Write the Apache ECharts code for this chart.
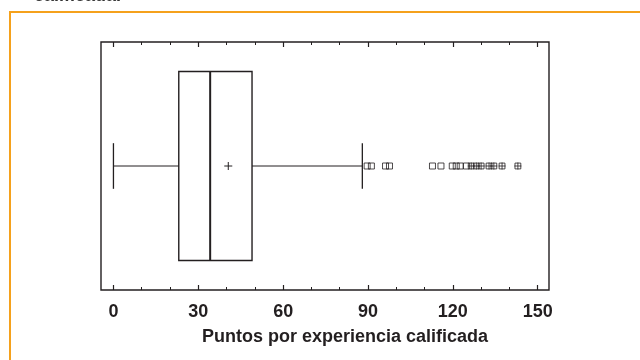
<!DOCTYPE html>
<html>
<head>
<meta charset="utf-8">
<script src="https://cdn.jsdelivr.net/npm/echarts@6/dist/echarts.min.js"></script>
<style>
html,body{margin:0;padding:0;background:#fff;}
#chart{width:640px;height:360px;}
</style>
</head>
<body>
<div id="chart"></div>
<script>
// ---- data ----
const axisTitle = 'Puntos por experiencia calificada';
const captionTail = 'calificada.';
const majorTicks = [0, 30, 60, 90, 120, 150];
const minorTicks = [0, 10, 20, 30, 40, 50, 60, 70, 80, 90, 100, 110, 120, 130, 140, 150];
// [lower whisker, Q1, median, Q3, upper whisker]
const boxStats = [0, 23.1, 34.2, 49.0, 88.0];
const meanValue = 40.6;
const outsidePoints = [89.7, 91.2, 96.2, 97.6, 112.8, 115.8, 119.8, 121.2, 122.6, 124.8];
const farOutsidePoints = [126.5, 128.3, 130.0, 132.8, 134.5, 137.4, 143.0];

// ---- layout ----
const XMIN = -4.4, XMAX = 154;
const CY = 0.5, BOX_HALF = 0.381, CAP_HALF = 0.092, MEAN_HALF_PX = 4;
const INK = '#231f20';
const ORANGE = '#f5a11c';
const FONT = '"Liberation Sans", Arial, sans-serif';

const chart = echarts.init(document.getElementById('chart'), null, {renderer: 'canvas'});

function renderBox(params, api) {
  const lo = api.value(0), q1 = api.value(1), md = api.value(2), q3 = api.value(3), hi = api.value(4), mn = api.value(5);
  const c = api.coord([q1, CY]);
  const yc = c[1];
  const yTop = api.coord([q1, CY + BOX_HALF])[1];
  const yBot = api.coord([q1, CY - BOX_HALF])[1];
  const capTop = api.coord([q1, CY + CAP_HALF])[1];
  const capBot = api.coord([q1, CY - CAP_HALF])[1];
  const xLo = api.coord([lo, CY])[0];
  const xQ1 = c[0];
  const xMd = api.coord([md, CY])[0];
  const xQ3 = api.coord([q3, CY])[0];
  const xHi = api.coord([hi, CY])[0];
  const xMn = api.coord([mn, CY])[0];
  const thin = {stroke: INK, lineWidth: 1, fill: null};
  return {
    type: 'group',
    children: [
      {type: 'rect', shape: {x: xQ1, y: yTop, width: xQ3 - xQ1, height: yBot - yTop}, style: {stroke: INK, lineWidth: 1.4, fill: 'none'}},
      {type: 'line', shape: {x1: xMd, y1: yTop, x2: xMd, y2: yBot}, style: {stroke: INK, lineWidth: 2}},
      {type: 'line', shape: {x1: xLo, y1: yc, x2: xQ1, y2: yc}, style: thin},
      {type: 'line', shape: {x1: xQ3, y1: yc, x2: xHi, y2: yc}, style: thin},
      {type: 'line', shape: {x1: xLo, y1: capTop, x2: xLo, y2: capBot}, style: {stroke: INK, lineWidth: 1.3}},
      {type: 'line', shape: {x1: xHi, y1: capTop, x2: xHi, y2: capBot}, style: {stroke: INK, lineWidth: 1.3}},
      {type: 'line', shape: {x1: xMn - MEAN_HALF_PX, y1: yc, x2: xMn + MEAN_HALF_PX, y2: yc}, style: thin},
      {type: 'line', shape: {x1: xMn, y1: yc - MEAN_HALF_PX, x2: xMn, y2: yc + MEAN_HALF_PX}, style: thin}
    ]
  };
}

const baseX = {type: 'value', min: XMIN, max: XMAX, splitLine: {show: false}};

const option = {
  backgroundColor: '#ffffff',
  animation: false,
  grid: {left: 101, right: 91, top: 42, bottom: 70, show: true, borderColor: INK, borderWidth: 1.4, backgroundColor: 'transparent'},
  xAxis: [
    Object.assign({}, baseX, {
      position: 'bottom',
      axisLine: {show: false},
      axisTick: {show: true, inside: true, length: 5, customValues: majorTicks, lineStyle: {color: INK, width: 1.2}},
      axisLabel: {show: true, customValues: majorTicks, margin: 13, color: INK, fontFamily: FONT, fontWeight: 'bold', fontSize: 18},
      name: axisTitle, nameLocation: 'middle', nameGap: 38,
      nameTextStyle: {color: INK, fontFamily: FONT, fontWeight: 'bold', fontSize: 18, padding: [0, 0, 0, 40]}
    }),
    Object.assign({}, baseX, {
      position: 'bottom',
      axisLine: {show: false},
      axisTick: {show: true, inside: true, length: 3, customValues: minorTicks, lineStyle: {color: INK, width: 1}},
      axisLabel: {show: false}
    }),
    Object.assign({}, baseX, {
      position: 'top',
      axisLine: {show: false},
      axisTick: {show: true, inside: true, length: 5, customValues: majorTicks, lineStyle: {color: INK, width: 1.2}},
      axisLabel: {show: false}
    }),
    Object.assign({}, baseX, {
      position: 'top',
      axisLine: {show: false},
      axisTick: {show: true, inside: true, length: 3, customValues: minorTicks, lineStyle: {color: INK, width: 1}},
      axisLabel: {show: false}
    })
  ],
  yAxis: {type: 'value', min: 0, max: 1, show: true, axisLine: {show: false}, axisTick: {show: false}, axisLabel: {show: false}, splitLine: {show: false}},
  graphic: [
    {type: 'rect', silent: true, shape: {x: 10, y: 12, width: 800, height: 500}, style: {fill: 'none', stroke: ORANGE, lineWidth: 2}},
    {type: 'text', silent: true, x: 34, y: 5, style: {text: captionTail, fill: '#333', font: 'bold 18px ' + FONT, verticalAlign: 'bottom', align: 'left'}}
  ],
  series: [
    {
      type: 'custom',
      xAxisIndex: 0, yAxisIndex: 0,
      renderItem: renderBox,
      data: [[boxStats[0], boxStats[1], boxStats[2], boxStats[3], boxStats[4], meanValue]],
      z: 3
    },
    {
      type: 'scatter',
      xAxisIndex: 0, yAxisIndex: 0,
      symbol: 'rect', symbolSize: 6,
      itemStyle: {color: 'rgba(255,255,255,0)', borderColor: INK, borderWidth: 1},
      data: outsidePoints.map(v => [v, CY]),
      z: 4
    },
    {
      type: 'scatter',
      xAxisIndex: 0, yAxisIndex: 0,
      symbol: 'path://M0,0L10,0L10,10L0,10Z M5,-1L5,11 M-1,5L11,5', symbolSize: 7,
      itemStyle: {color: 'rgba(255,255,255,0)', borderColor: INK, borderWidth: 1},
      data: farOutsidePoints.map(v => [v, CY]),
      z: 4
    }
  ]
};
chart.setOption(option);
</script>
</body>
</html>
